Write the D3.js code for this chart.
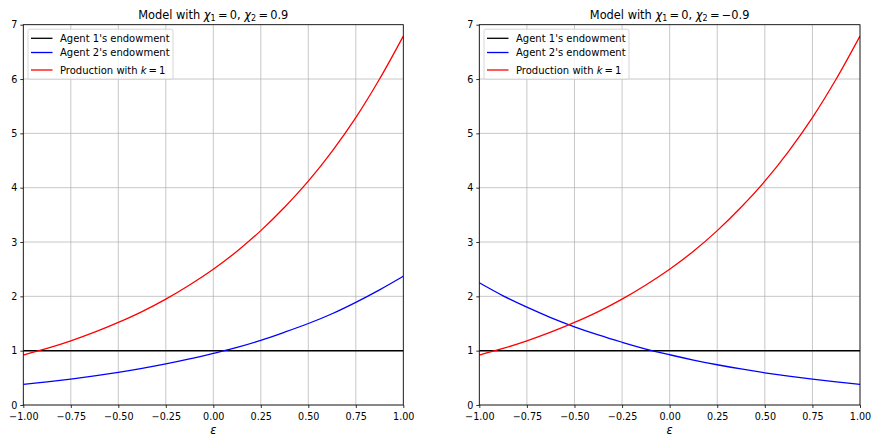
<!DOCTYPE html>
<html>
<head>
<meta charset="utf-8">
<script src="https://cdn.jsdelivr.net/npm/d3@7"></script>
<style>
body{margin:0;background:#fff;}
svg{display:block;font-family:"DejaVu Sans",sans-serif;}
</style>
</head>
<body>
<svg id="chart" width="877" height="446"></svg>
<script>
// Data
const epsilon = [-1,-0.875,-0.75,-0.625,-0.5,-0.375,-0.25,-0.125,0,0.125,0.25,0.375,0.5,0.625,0.75,0.875,1];
const agent1 = [1,1,1,1,1,1,1,1,1,1,1,1,1,1,1,1,1];
const production = [0.92,1.04,1.18,1.34,1.52,1.72,1.95,2.21,2.50,2.83,3.21,3.64,4.12,4.67,5.29,6.00,6.79];
const agent2Left = [0.38,0.425,0.477,0.535,0.60,0.673,0.755,0.847,0.95,1.06,1.19,1.34,1.50,1.68,1.89,2.12,2.37];
const agent2Right = [2.25,2.01,1.80,1.61,1.44,1.29,1.155,1.03,0.925,0.828,0.741,0.663,0.593,0.531,0.475,0.425,0.38];
const xTicks = [-1,-0.75,-0.5,-0.25,0,0.25,0.5,0.75,1];
const yTicks = [0,1,2,3,4,5,6,7];
const chi2Values = ["0.9","\u22120.9"];
const legendLabels = ["Agent 1's endowment","Agent 2's endowment","Production with k = 1"];

const svg = d3.select("#chart");
const panels = [
  {left:23.3, right:403.3, chi2:chi2Values[0], a2:agent2Left},
  {left:479.3, right:860, chi2:chi2Values[1], a2:agent2Right}
];
const plotTop = 24.7, plotBottom = 405;
const fs = 9.6, legFs = 10;

panels.forEach(p => {
  const x = d3.scaleLinear().domain([-1,1]).range([p.left,p.right]);
  const y = d3.scaleLinear().domain([0,7]).range([plotBottom,plotTop]);
  const g = svg.append("g");

  // grid
  g.append("g").selectAll("line").data(xTicks).join("line")
    .attr("x1",d=>x(d)).attr("x2",d=>x(d)).attr("y1",plotTop).attr("y2",plotBottom)
    .attr("stroke","#b0b0b0").attr("stroke-width",0.7);
  g.append("g").selectAll("line").data(yTicks).join("line")
    .attr("x1",p.left).attr("x2",p.right).attr("y1",d=>y(d)).attr("y2",d=>y(d))
    .attr("stroke","#b0b0b0").attr("stroke-width",0.7);

  const fmt = d => (d<0?"\u2212":"") + Math.abs(d).toFixed(2);
  const xa = g.append("g").attr("transform",`translate(0,${plotBottom})`)
    .call(d3.axisBottom(x).tickValues(xTicks).tickFormat(fmt).tickSize(3).tickPadding(5.3));
  const ya = g.append("g").attr("transform",`translate(${p.left},0)`)
    .call(d3.axisLeft(y).tickValues(yTicks).tickFormat(d3.format("d")).tickSize(3).tickPadding(3));
  [xa,ya].forEach(a=>{
    a.select(".domain").remove();
    a.selectAll("line").attr("stroke","#000").attr("stroke-width",0.8);
    a.selectAll("text").attr("font-size",fs).attr("fill","#000").attr("font-family","DejaVu Sans");
  });

  const line = arr => d3.line().x((d,i)=>x(epsilon[i])).y(d=>y(d)).curve(d3.curveCatmullRom)(arr);
  const clipId = "clip"+Math.round(p.left);
  svg.append("clipPath").attr("id",clipId).append("rect")
    .attr("x",p.left).attr("y",plotTop).attr("width",p.right-p.left).attr("height",plotBottom-plotTop);
  const lg = g.append("g").attr("clip-path",`url(#${clipId})`);
  lg.append("path").attr("d",line(agent1)).attr("fill","none").attr("stroke","#000").attr("stroke-width",1.5);
  lg.append("path").attr("d",line(p.a2)).attr("fill","none").attr("stroke","#0000ff").attr("stroke-width",1.3);
  lg.append("path").attr("d",line(production)).attr("fill","none").attr("stroke","#ff0000").attr("stroke-width",1.3);

  // frame
  g.append("rect").attr("x",p.left).attr("y",plotTop).attr("width",p.right-p.left).attr("height",plotBottom-plotTop)
    .attr("fill","none").attr("stroke","#000").attr("stroke-width",0.8);

  // title
  const cx = (p.left+p.right)/2;
  const t = g.append("text").attr("x",cx).attr("y",19.3).attr("text-anchor","middle")
    .attr("font-size",11.4).attr("fill","#000");
  t.append("tspan").text("Model with ");
  t.append("tspan").attr("font-style","italic").text("\u03c7");
  t.append("tspan").attr("font-size",8).attr("dy",2).text("1");
  t.append("tspan").attr("dy",-2).text("\u2009=\u20090, ");
  t.append("tspan").attr("font-style","italic").text("\u03c7");
  t.append("tspan").attr("font-size",8).attr("dy",2).text("2");
  t.append("tspan").attr("dy",-2).text("\u2009=\u2009" + p.chi2);

  // x label
  g.append("text").attr("x",cx).attr("y",433.5).attr("text-anchor","middle")
    .attr("font-size",11.4).attr("font-style","italic").text("\u03b5");

  // legend
  const lx = p.left+4.7, ly = plotTop+4.5;
  g.append("rect").attr("x",lx).attr("y",ly).attr("width",145).attr("height",50).attr("rx",2)
    .attr("fill","#fff").attr("fill-opacity",0.8).attr("stroke","#ccc").attr("stroke-width",0.8);
  const colors = ["#000","#0000ff","#ff0000"];
  const rowY = [38.3,52.5,70];
  legendLabels.forEach((lab,i)=>{
    g.append("line").attr("x1",lx+3).attr("x2",lx+24.5).attr("y1",rowY[i]).attr("y2",rowY[i])
      .attr("stroke",colors[i]).attr("stroke-width",1.3);
    const tx = g.append("text").attr("x",lx+32).attr("y",rowY[i]+3.5).attr("font-size",legFs).attr("fill","#000");
    if(i<2){ tx.text(lab); }
    else {
      tx.append("tspan").text("Production with ");
      tx.append("tspan").attr("font-style","italic").text("k");
      tx.append("tspan").text("\u2009=\u20091");
    }
  });
});
</script>
</body>
</html>
